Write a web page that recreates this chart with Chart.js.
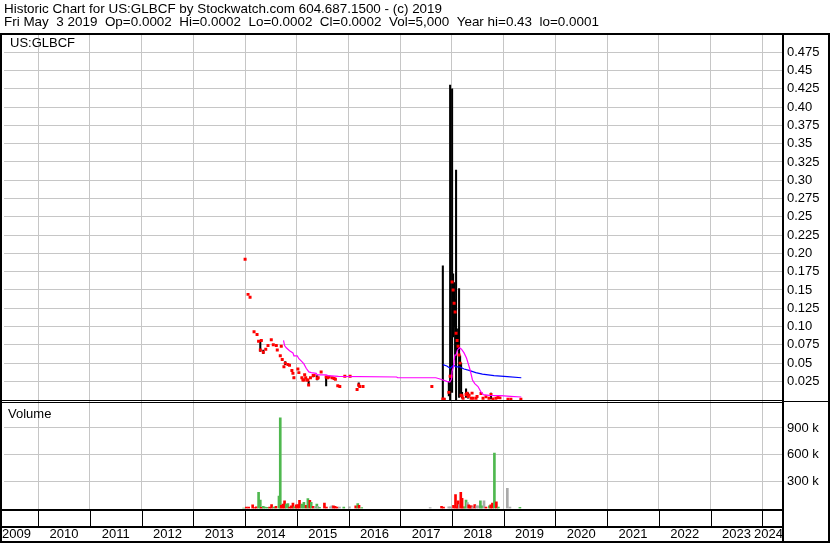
<!DOCTYPE html>
<html>
<head>
<meta charset="utf-8">
<script src="https://cdn.jsdelivr.net/npm/chart.js@4.4.1/dist/chart.umd.min.js"></script>
<style>
  body { margin: 0; background: #fff; }
  canvas { display: block; }
</style>
</head>
<body>
<canvas id="chart" width="830" height="543"></canvas>
<script>
'use strict';
// header text
let titleLine = 'Historic Chart for US:GLBCF by Stockwatch.com 604.687.1500 - (c) 2019';
let quoteLine = 'Fri May  3 2019  Op=0.0002  Hi=0.0002  Lo=0.0002  Cl=0.0002  Vol=5,000  Year hi=0.43  lo=0.0001';
let symbolLabel = 'US:GLBCF';
let volumeLabel = 'Volume';

// axis ticks
let yearTicks = [2010, 2011, 2012, 2013, 2014, 2015, 2016, 2017, 2018, 2019, 2020, 2021, 2022, 2023, 2024];
let yearLabels = ['2009', '2010', '2011', '2012', '2013', '2014', '2015', '2016', '2017', '2018', '2019', '2020', '2021', '2022', '2023', '2024'];
let priceTicks = [0.025, 0.05, 0.075, 0.1, 0.125, 0.15, 0.175, 0.2, 0.225, 0.25, 0.275, 0.3, 0.325, 0.35, 0.375, 0.4, 0.425, 0.45, 0.475, 0.5];
let priceTickLabels = ['0.025', '0.05', '0.075', '0.10', '0.125', '0.15', '0.175', '0.20', '0.225', '0.25', '0.275', '0.30', '0.325', '0.35', '0.375', '0.40', '0.425', '0.45', '0.475', ''];
let volTicks = [300000, 600000, 900000];
let volTickLabels = ['300 k', '600 k', '900 k'];

// weekly prices (decimal year)
let priceDate = [2014.000, 2014.057, 2014.096, 2014.173, 2014.231, 2014.261, 2014.294, 2014.314, 2014.352, 2014.400,
  2014.443, 2014.506, 2014.545, 2014.603, 2014.622, 2014.680, 2014.699, 2014.718, 2014.751, 2014.776,
  2014.828, 2014.859, 2014.905, 2014.925, 2014.944, 2015.021, 2015.040, 2015.098, 2015.118, 2015.137,
  2015.152, 2015.172, 2015.195, 2015.214, 2015.229, 2015.264, 2015.316, 2015.335, 2015.393, 2015.413,
  2015.470, 2015.567, 2015.596, 2015.625, 2015.683, 2015.721, 2015.746, 2015.792, 2015.831, 2015.928,
  2016.030, 2016.165, 2016.197, 2016.217, 2016.280, 2017.611, 2017.823, 2017.850, 2017.939, 2017.964,
  2017.983, 2018.002, 2018.022, 2018.041, 2018.060, 2018.079, 2018.099, 2018.118, 2018.137, 2018.157,
  2018.176, 2018.195, 2018.214, 2018.272, 2018.291, 2018.311, 2018.330, 2018.369, 2018.388, 2018.407,
  2018.465, 2018.484, 2018.561, 2018.600, 2018.657, 2018.715, 2018.754, 2018.792, 2018.850, 2018.889,
  2018.927, 2019.082, 2019.139, 2019.332];
let priceClose = [0.192, 0.144, 0.140, 0.093, 0.089, 0.080, 0.068, 0.081, 0.065, 0.069,
  0.074, 0.082, 0.075, 0.074, 0.068, 0.060, 0.073, 0.055, 0.045, 0.050,
  0.048, 0.047, 0.040, 0.036, 0.030, 0.042, 0.037, 0.030, 0.027, 0.027,
  0.034, 0.030, 0.027, 0.027, 0.020, 0.030, 0.033, 0.033, 0.029, 0.030,
  0.038, 0.031, 0.030, 0.031, 0.030, 0.029, 0.028, 0.019, 0.018, 0.032,
  0.032, 0.014, 0.020, 0.018, 0.018, 0.018, 0.001, 0.0005, 0.010, 0.032,
  0.032, 0.161, 0.150, 0.132, 0.120, 0.091, 0.081, 0.073, 0.061, 0.050,
  0.006, 0.005, 0.002, 0.007, 0.009, 0.0045, 0.006, 0.002, 0.009, 0.002,
  0.002, 0.0045, 0.0085, 0.002, 0.004, 0.002, 0.007, 0.001, 0.002, 0.003,
  0.0025, 0.0008, 0.0008, 0.0005];
let priceHigh = [0.192, 0.144, 0.140, 0.093, 0.089, 0.080, 0.081, 0.081, 0.068, 0.069,
  0.074, 0.082, 0.075, 0.074, 0.068, 0.060, 0.073, 0.055, 0.045, 0.052,
  0.048, 0.047, 0.040, 0.036, 0.031, 0.042, 0.037, 0.030, 0.027, 0.027,
  0.034, 0.030, 0.027, 0.027, 0.025, 0.030, 0.034, 0.033, 0.033, 0.030,
  0.038, 0.032, 0.030, 0.031, 0.030, 0.029, 0.028, 0.019, 0.018, 0.032,
  0.032, 0.014, 0.023, 0.018, 0.018, 0.018, 0.183, 0.002, 0.025, 0.430,
  0.032, 0.425, 0.172, 0.160, 0.137, 0.314, 0.090, 0.097, 0.152, 0.060,
  0.050, 0.010, 0.002, 0.015, 0.009, 0.0095, 0.006, 0.002, 0.009, 0.002,
  0.002, 0.0045, 0.0085, 0.002, 0.004, 0.002, 0.009, 0.001, 0.002, 0.003,
  0.0025, 0.0008, 0.0008, 0.0005];
let priceLow = [0.192, 0.144, 0.140, 0.093, 0.089, 0.080, 0.066, 0.081, 0.063, 0.069,
  0.074, 0.082, 0.075, 0.074, 0.068, 0.060, 0.073, 0.055, 0.045, 0.048,
  0.048, 0.047, 0.040, 0.036, 0.029, 0.042, 0.037, 0.030, 0.027, 0.027,
  0.034, 0.030, 0.027, 0.027, 0.020, 0.030, 0.031, 0.033, 0.027, 0.030,
  0.038, 0.019, 0.030, 0.031, 0.030, 0.029, 0.028, 0.019, 0.018, 0.032,
  0.032, 0.014, 0.018, 0.018, 0.018, 0.018, 0.000, 0.000, 0.005, 0.000,
  0.032, 0.010, 0.086, 0.100, 0.055, 0.000, 0.070, 0.068, 0.003, 0.045,
  0.004, 0.002, 0.002, 0.003, 0.009, 0.002, 0.006, 0.002, 0.009, 0.002,
  0.002, 0.0045, 0.0085, 0.002, 0.004, 0.002, 0.001, 0.001, 0.002, 0.003,
  0.0025, 0.0008, 0.0008, 0.0005];

// moving averages
let maShortDate = [2014.743, 2014.763, 2014.796, 2014.859, 2014.925, 2014.944, 2015.008, 2015.040, 2015.098, 2015.137,
  2015.181, 2015.233, 2015.278, 2015.374, 2015.393, 2015.567, 2015.600, 2015.804, 2016.930, 2016.949,
  2017.688, 2017.784, 2017.900, 2017.958, 2017.990, 2018.002, 2018.029, 2018.054, 2018.079, 2018.106,
  2018.145, 2018.183, 2018.233, 2018.280, 2018.311, 2018.349, 2018.396, 2018.440, 2018.503, 2018.556,
  2018.607, 2018.715, 2018.941, 2019.134, 2019.340];
let maShort = [0.081, 0.074, 0.071, 0.067, 0.064, 0.060, 0.060, 0.056, 0.052, 0.049,
  0.043, 0.038, 0.037, 0.036, 0.034, 0.034, 0.033, 0.032, 0.031, 0.030,
  0.030, 0.028, 0.025, 0.024, 0.028, 0.039, 0.045, 0.061, 0.061, 0.068,
  0.071, 0.069, 0.064, 0.057, 0.050, 0.041, 0.027, 0.022, 0.018, 0.011,
  0.007, 0.006, 0.0055, 0.0045, 0.0037];
let maLongDate = [2017.823, 2017.900, 2017.964, 2018.029, 2018.079, 2018.145, 2018.233, 2018.330, 2018.459, 2018.588,
  2018.812, 2019.070, 2019.340];
let maLong = [0.048, 0.046, 0.043, 0.047, 0.045, 0.045, 0.042, 0.040, 0.037, 0.035,
  0.033, 0.0315, 0.030];

// weekly volume, direction 1 up, -1 down, 0 unchanged
let volDate = [2013.972, 2014.024, 2014.069, 2014.146, 2014.184, 2014.217, 2014.261, 2014.294, 2014.314, 2014.352,
  2014.385, 2014.429, 2014.474, 2014.512, 2014.558, 2014.597, 2014.655, 2014.680, 2014.699, 2014.732,
  2014.763, 2014.796, 2014.828, 2014.859, 2014.892, 2014.925, 2014.956, 2014.988, 2015.021, 2015.052,
  2015.098, 2015.137, 2015.181, 2015.214, 2015.252, 2015.278, 2015.316, 2015.355, 2015.387, 2015.406,
  2015.438, 2015.534, 2015.573, 2015.650, 2015.677, 2015.708, 2015.740, 2015.779, 2015.824, 2015.908,
  2016.016, 2016.139, 2016.178, 2016.203, 2016.255, 2017.578, 2017.798, 2017.836, 2017.938, 2017.977,
  2018.029, 2018.068, 2018.093, 2018.118, 2018.145, 2018.170, 2018.195, 2018.222, 2018.247, 2018.272,
  2018.299, 2018.324, 2018.349, 2018.376, 2018.401, 2018.440, 2018.478, 2018.517, 2018.549, 2018.575,
  2018.619, 2018.657, 2018.723, 2018.749, 2018.782, 2018.820, 2018.858, 2018.897, 2019.070, 2019.120,
  2019.313];
let volume = [5000, 15000, 15000, 40000, 10000, 20000, 180000, 95000, 12000, 25000,
  15000, 12000, 15000, 45000, 15000, 25000, 140000, 1015000, 35000, 50000,
  85000, 50000, 55000, 15000, 30000, 60000, 20000, 40000, 45000, 90000,
  50000, 70000, 35000, 110000, 90000, 70000, 25000, 20000, 50000, 25000,
  12000, 60000, 15000, 20000, 30000, 30000, 25000, 15000, 15000, 15000,
  20000, 30000, 55000, 35000, 10000, 10000, 25000, 15000, 20000, 20000,
  35000, 155000, 15000, 85000, 45000, 180000, 115000, 20000, 15000, 95000,
  65000, 40000, 30000, 30000, 20000, 45000, 30000, 30000, 85000, 30000,
  85000, 15000, 30000, 40000, 60000, 620000, 75000, 15000, 225000, 15000,
  12000];
let volDir = [1, -1, -1, -1, -1, -1, 1, 1, -1, 1,
  1, 1, -1, -1, 1, -1, 1, 1, -1, -1,
  -1, 1, 1, -1, -1, -1, 1, -1, -1, -1,
  1, 1, -1, 1, -1, 1, -1, 0, 1, 0,
  1, -1, -1, 0, 0, -1, -1, -1, 0, 1,
  0, -1, 1, -1, 1, 0, -1, -1, 0, 0,
  -1, -1, -1, -1, 0, -1, -1, -1, 1, 1,
  0, -1, -1, -1, 0, -1, 0, 0, 1, 1,
  0, -1, 1, -1, -1, 1, -1, 1, 0, 0,
  1];

let fontFamily = '"Liberation Sans", Arial, sans-serif';
let gridColor = '#c6c6c6';

function fitText(ctx, text, x, y, width) {
    let w = ctx.measureText(text).width;
    ctx.save();
    ctx.translate(x, y);
    ctx.scale(width / w, 1);
    ctx.fillText(text, 0, 0);
    ctx.restore();
}

let framePlugin = {
    id: 'frame',
    beforeDraw(chart) {
        let ctx = chart.ctx;
        ctx.save();
        ctx.fillStyle = '#fff';
        ctx.fillRect(0, 0, chart.width, chart.height);
        ctx.restore();
    },
    afterDraw(chart) {
        let ctx = chart.ctx;
        let area = chart.chartArea;
        let xs = chart.scales.x;
        let yP = chart.scales.yP;
        let yV = chart.scales.yV;
        let right = area.right;
        let split = Math.round(yP.bottom);
        let volBottom = Math.round(area.bottom);
        ctx.save();
        ctx.fillStyle = '#000';
        // outer frame and panel borders
        ctx.fillRect(0, 33, chart.width, 2);
        ctx.fillRect(0, 33, 2, chart.height - 33);
        ctx.fillRect(right, 33, 2, chart.height - 33);
        ctx.fillRect(chart.width - 2, 33, 2, chart.height - 33);
        ctx.fillRect(0, split - 1, right, 1);
        ctx.fillRect(0, split + 1, right, 1);
        ctx.fillRect(right, split, chart.width - right, 1);
        ctx.fillRect(0, volBottom, right + 2, 2);
        ctx.fillRect(0, volBottom + 17, right + 2, 2);
        ctx.fillRect(0, chart.height - 2, chart.width, 2);
        // date strip separators
        for (let i = 0; i < yearTicks.length; i++) {
            let px = Math.round(xs.getPixelForValue(yearTicks[i]));
            if (px > 2 && px < right) {
                ctx.fillRect(px, volBottom + 2, 1, 15);
            }
        }
        // year labels centred on each year
        ctx.font = '13px ' + fontFamily;
        ctx.textBaseline = 'alphabetic';
        for (let i = 0; i < yearLabels.length; i++) {
            let yr = Number(yearLabels[i]);
            let mid = xs.getPixelForValue(yr + 0.5);
            let w = ctx.measureText(yearLabels[i]).width;
            let left = Math.min(Math.max(mid - w / 2, 2), right + 1 - w);
            ctx.fillText(yearLabels[i], left, chart.height - 5);
        }
        // header
        ctx.font = '13px ' + fontFamily;
        fitText(ctx, titleLine, 4, 13, 438);
        fitText(ctx, quoteLine, 4, 26, 595);
        // panel labels
        ctx.fillText(symbolLabel, 10, 47);
        ctx.fillText(volumeLabel, 8, yV.top + 17);
        ctx.restore();
    }
};

let ctx = document.getElementById('chart').getContext('2d');
let myChart = new Chart(ctx, {
    type: 'line',
    data: {
        datasets: [{
            type: 'line',
            label: 'ma short',
            yAxisID: 'yP',
            data: maShortDate.map((d, i) => ({ x: d, y: maShort[i] })),
            borderColor: '#ff00ff',
            borderWidth: 1.2,
            pointRadius: 0,
            tension: 0
        }, {
            type: 'line',
            label: 'ma long',
            yAxisID: 'yP',
            data: maLongDate.map((d, i) => ({ x: d, y: maLong[i] })),
            borderColor: '#0000ff',
            borderWidth: 1.2,
            pointRadius: 0,
            tension: 0
        }, {
            type: 'scatter',
            label: 'close',
            yAxisID: 'yP',
            data: priceDate.map((d, i) => ({ x: d, y: priceClose[i] })),
            pointStyle: 'rect',
            pointRadius: 2.1,
            backgroundColor: '#ff0000',
            borderWidth: 0
        }, {
            type: 'bar',
            label: 'range',
            yAxisID: 'yP',
            stack: 'all',
            data: priceDate.map((d, i) => ({ x: d, y: [priceLow[i], priceHigh[i]] })),
            backgroundColor: '#000',
            barThickness: 1.4,
            borderWidth: 0
        }, {
            type: 'bar',
            label: 'volume',
            yAxisID: 'yV',
            stack: 'all',
            data: volDate.map((d, i) => ({ x: d, y: volume[i] })),
            backgroundColor: volDir.map(v => v > 0 ? '#4fb84f' : (v < 0 ? '#ff0000' : '#aaaaaa')),
            barThickness: 2,
            borderWidth: 0
        }]
    },
    options: {
        responsive: false,
        animation: false,
        devicePixelRatio: 1,
        events: [],
        layout: { padding: { top: 34, left: 2, right: 0, bottom: 0 } },
        plugins: { legend: { display: false }, tooltip: { enabled: false } },
        scales: {
            x: {
                type: 'linear',
                offset: false,
                min: 2009.339,
                max: 2024.38,
                afterBuildTicks: s => { s.ticks = yearTicks.map(v => ({ value: v })); },
                afterFit: s => { s.height = 34.5; },
                grid: { color: gridColor, drawTicks: false, offset: false },
                border: { display: false },
                ticks: { display: false, autoSkip: false }
            },
            yP: {
                type: 'linear',
                position: 'right',
                stack: 'panels',
                stackWeight: 366,
                min: -0.002,
                max: 0.5,
                afterBuildTicks: s => { s.ticks = priceTicks.map(v => ({ value: v })); },
                afterFit: s => { s.width = 48; },
                grid: { color: gridColor, drawTicks: false },
                border: { display: false },
                ticks: {
                    autoSkip: false,
                    padding: 5,
                    color: '#000',
                    font: { family: fontFamily, size: 13 },
                    callback: (v, i) => priceTickLabels[i]
                }
            },
            yV: {
                type: 'linear',
                position: 'right',
                stack: 'panels',
                stackWeight: 107,
                min: 0,
                max: 1200000,
                afterBuildTicks: s => { s.ticks = volTicks.map(v => ({ value: v })); },
                afterFit: s => { s.width = 48; },
                grid: { color: gridColor, drawTicks: false },
                border: { display: false },
                ticks: {
                    autoSkip: false,
                    padding: 5,
                    color: '#000',
                    font: { family: fontFamily, size: 13 },
                    callback: (v, i) => volTickLabels[i]
                }
            }
        }
    },
    plugins: [framePlugin]
});
</script>
</body>
</html>
